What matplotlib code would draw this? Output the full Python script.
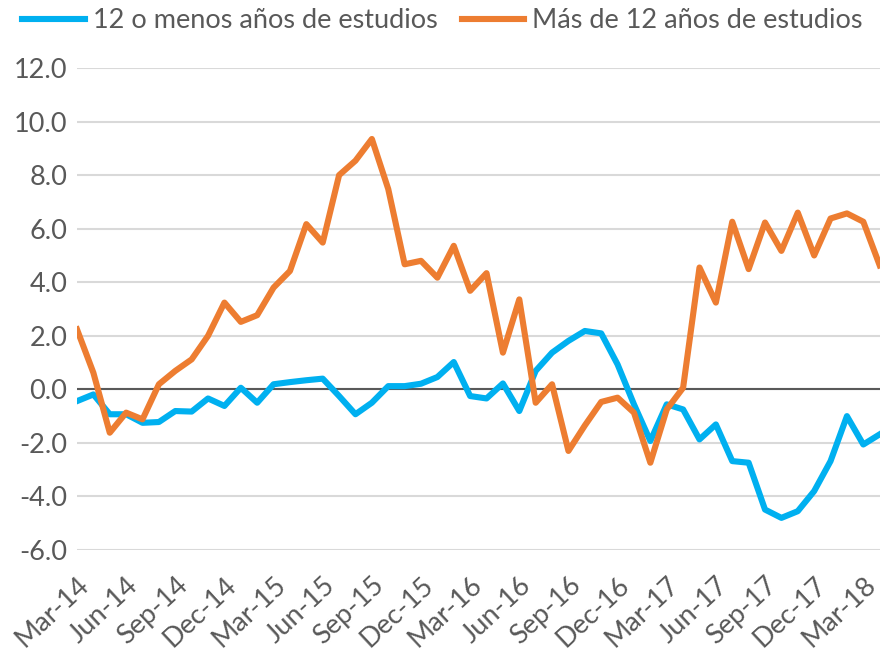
import matplotlib.pyplot as plt
import numpy as np

months = ["Mar", "Apr", "May", "Jun", "Jul", "Aug", "Sep", "Oct", "Nov", "Dec", "Jan", "Feb"]

# monthly series, Mar-14 .. Apr-18
low_edu = [
    -0.44, -0.19, -0.93, -0.93, -1.25, -1.22, -0.81, -0.83, -0.34, -0.62,
    0.06, -0.50, 0.19, 0.27, 0.34, 0.40, -0.25, -0.93, -0.50, 0.12,
    0.12, 0.21, 0.46, 1.02, -0.25, -0.34, 0.22, -0.81, 0.69, 1.37,
    1.81, 2.18, 2.09, 0.93, -0.56, -1.93, -0.56, -0.75, -1.87, -1.31,
    -2.68, -2.74, -4.49, -4.80, -4.55, -3.80, -2.68, -1.00, -2.06, -1.68,
]
high_edu = [
    2.24, 0.62, -1.62, -0.87, -1.12, 0.19, 0.69, 1.12, 2.00, 3.24,
    2.52, 2.77, 3.80, 4.42, 6.17, 5.48, 8.00, 8.54, 9.35, 7.48,
    4.67, 4.80, 4.17, 5.36, 3.68, 4.34, 1.37, 3.36, -0.50, 0.19,
    -2.30, -1.35, -0.47, -0.31, -0.87, -2.74, -0.75, 0.06, 4.55, 3.24,
    6.26, 4.49, 6.23, 5.17, 6.60, 5.00, 6.38, 6.57, 6.26, 4.63,
]
labels = [f"{months[i % 12]}-{14 + (i + 2) // 12}" for i in range(len(low_edu))]

plt.rcParams["font.family"] = ["Lato", "DejaVu Sans"]
grey = "#595959"

fig = plt.figure(figsize=(8.85, 6.54), dpi=100)
ax = fig.add_axes([0.087, 0.159, 0.907, 0.737])

x = np.arange(len(low_edu))
ax.plot(x, low_edu, color="#00B0F0", lw=4.4, label="12 o menos años de estudios",
        solid_joinstyle="round", zorder=3)
ax.plot(x, high_edu, color="#ED7D31", lw=4.4, label="Más de 12 años de estudios",
        solid_joinstyle="round", zorder=3)
ax.axhline(0, color=grey, lw=1.5, zorder=2)

ax.set_ylim(-6, 12)
ax.set_xlim(0, len(low_edu) - 1)
ax.set_yticks(np.arange(-6, 13, 2))
ax.set_yticklabels([f"{v:.1f}" for v in np.arange(-6, 13, 2)])
ax.set_xticks(x[::3])
ax.set_xticklabels(labels[::3], rotation=43, ha="right", rotation_mode="anchor")
ax.grid(axis="y", color="#D9D9D9", lw=1.5, zorder=1)
ax.set_axisbelow(True)
for s in ax.spines.values():
    s.set_visible(False)
ax.tick_params(length=0, labelsize=19.5, labelcolor=grey)
ax.tick_params(axis="y", pad=7)
ax.tick_params(axis="x", pad=16)

fig.legend(loc="upper center", bbox_to_anchor=(0.5, 1.025), ncol=2, frameon=False,
           fontsize=19.5, labelcolor=grey, handlelength=2.3, handletextpad=0.3,
           columnspacing=0.9)

fig.savefig("out.png", dpi=100)
